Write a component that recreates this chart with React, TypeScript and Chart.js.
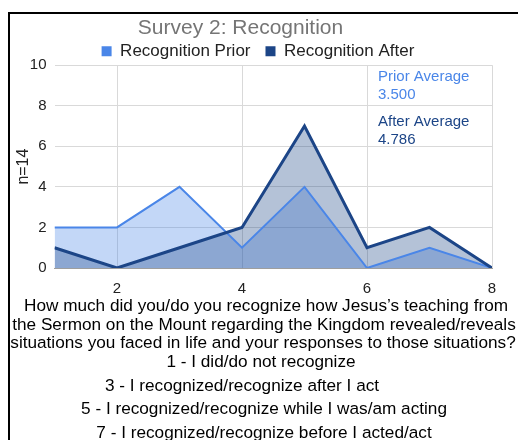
import React, { useEffect, useRef } from "react";
import { Chart, registerables } from "chart.js";

Chart.register(...registerables);

const xValues = [1, 2, 3, 4, 5, 6, 7, 8];
const xTickValues = [2, 4, 6, 8];
const priorValues = [2, 2, 4, 1, 4, 0, 1, 0];
const afterValues = [1, 0, 1, 2, 7, 1, 2, 0];
const seriesLabels = ["Recognition Prior", "Recognition After"];
const chartTitle = "Survey 2: Recognition";
const yAxisTitle = "n=14";
const priorAverageLines = ["Prior Average", "3.500"];
const afterAverageLines = ["After Average", "4.786"];
const questionLines = [
  "How much did you/do you recognize how Jesus\u2019s teaching from",
  "the Sermon on the Mount regarding the Kingdom revealed/reveals",
  "situations you faced in life and your responses to those situations?",
  "1 - I did/do not recognize",
  "3 - I recognized/recognize after I act",
  "5 - I recognized/recognize while I was/am acting",
  "7 - I recognized/recognize before I acted/act",
];
const lineCenters = [305, 323.5, 342, 361, 384.5, 408, 431.5];
const lineShifts = [-4, 0, 2, 6, 44, 0, 0];

const FONT = "'Liberation Sans', Arial, Helvetica, sans-serif";
const PRIOR = "#4a86e8";
const AFTER = "#1c4587";

export default function App() {
  const ref = useRef<HTMLCanvasElement>(null);

  useEffect(() => {
    if (!ref.current) return;
    const avgPlugin = {
      id: "avgText",
      afterDatasetsDraw(chart: any) {
        const { ctx, scales } = chart;
        const x = scales.x.getPixelForValue(6) + 11;
        const top = scales.y.getPixelForValue(10);
        ctx.save();
        ctx.font = `15px ${FONT}`;
        ctx.textAlign = "left";
        ctx.textBaseline = "middle";
        ctx.fillStyle = PRIOR;
        ctx.fillText(priorAverageLines[0], x, top + 12);
        ctx.fillText(priorAverageLines[1], x, top + 30);
        ctx.fillStyle = AFTER;
        ctx.fillText(afterAverageLines[0], x, top + 57);
        ctx.fillText(afterAverageLines[1], x, top + 75);
        ctx.restore();
      },
    };

    const chart = new Chart(ref.current, {
      type: "line",
      data: {
        datasets: [
          {
            label: seriesLabels[0],
            data: xValues.map((x, i) => ({ x, y: priorValues[i] })),
            borderColor: PRIOR,
            backgroundColor: "rgba(74,134,232,0.33)",
            borderWidth: 2,
            fill: "origin",
            pointRadius: 0,
            tension: 0,
            order: 2,
          },
          {
            label: seriesLabels[1],
            data: xValues.map((x, i) => ({ x, y: afterValues[i] })),
            borderColor: AFTER,
            backgroundColor: "rgba(28,69,135,0.33)",
            borderWidth: 3,
            fill: "origin",
            pointRadius: 0,
            tension: 0,
            order: 1,
          },
        ],
      },
      options: {
        responsive: false,
        animation: false,
        layout: { padding: { left: 0, right: 12, top: 0, bottom: 0 } },
        plugins: {
          filler: { drawTime: "beforeDatasetsDraw" },
          tooltip: { enabled: false },
          title: {
            display: true,
            text: chartTitle + "      ",
            color: "#757575",
            font: { family: FONT, size: 21, weight: "normal" },
            padding: { top: 2, bottom: -13.5 },
          },
          legend: {
            display: true,
            maxHeight: 37.5,
            labels: {
              boxWidth: 10,
              boxHeight: 10,
              padding: 15,
              color: "#222",
              font: { family: FONT, size: 17 },
              generateLabels: (c: any) =>
                c.data.datasets.map((ds: any, i: number) => ({
                  text: ds.label,
                  fillStyle: ds.borderColor,
                  strokeStyle: ds.borderColor,
                  lineWidth: 0,
                  hidden: false,
                  datasetIndex: i,
                  fontColor: "#222",
                })),
            },
          },
        },
        scales: {
          x: {
            type: "linear",
            min: 1,
            max: 8,
            afterBuildTicks: (scale: any) => {
              scale.ticks = xTickValues.map((v) => ({ value: v }));
            },
            afterFit: (scale: any) => {
              scale.height = 38;
            },
            grid: { color: "#d9d9d9", drawTicks: false },
            border: { display: true, color: "#9e9e9e" },
            ticks: {
              color: "#222",
              padding: 12,
              maxRotation: 0,
              font: { family: FONT, size: 15 },
            },
          },
          y: {
            type: "linear",
            min: 0,
            max: 10,
            afterFit: (scale: any) => {
              scale.width = 44.5;
            },
            grid: { color: "#d9d9d9", drawTicks: false },
            border: { display: false },
            ticks: {
              stepSize: 2,
              color: "#222",
              padding: 8,
              font: { family: FONT, size: 15 },
            },
            title: {
              display: true,
              text: yAxisTitle,
              color: "#222",
              font: { family: FONT, size: 16 },
              padding: { top: 4, bottom: 0 },
            },
          },
          y2: {
            type: "linear",
            position: "right",
            display: true,
            afterFit: (scale: any) => {
              scale.width = 14;
            },
            grid: { display: false, drawTicks: false },
            border: { display: false },
            ticks: { display: false },
          },
        },
      },
      plugins: [avgPlugin],
    } as any);
    return () => chart.destroy();
  }, []);

  return (
    <div
      style={{
        position: "absolute",
        left: 8,
        top: 12,
        width: 510,
        height: 428,
        borderTop: "2px solid #000",
        borderLeft: "2px solid #000",
        boxSizing: "border-box",
        overflow: "hidden",
        background: "#fff",
      }}
    >
      <canvas
        ref={ref}
        width={508}
        height={292}
        style={{ position: "absolute", left: 0, top: 0, width: 508, height: 292 }}
      />
      {questionLines.map((t, i) => (
        <div
          key={i}
          style={{
            position: "absolute",
            left: 0,
            width: 508,
            top: lineCenters[i] - 14 - 10,
            height: 20,
            lineHeight: "20px",
            fontFamily: FONT,
            fontSize: 17.2,
            color: "#000",
            display: "flex",
            justifyContent: "center",
            whiteSpace: "nowrap",
            boxSizing: "border-box",
            paddingRight: Math.max(lineShifts[i], 0),
            paddingLeft: Math.max(-lineShifts[i], 0),
          }}
        >
          {t}
        </div>
      ))}
    </div>
  );
}
